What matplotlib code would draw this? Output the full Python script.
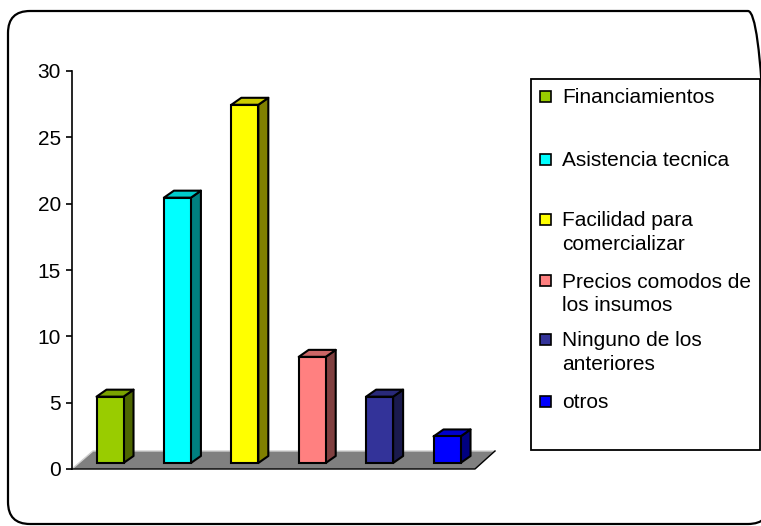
import numpy as np
import matplotlib.pyplot as plt
from matplotlib.patches import Polygon, FancyBboxPatch, Rectangle
from matplotlib.colors import to_rgb
from matplotlib.transforms import IdentityTransform

labels = ["Financiamientos", "Asistencia tecnica", "Facilidad para\ncomercializar",
          "Precios comodos de\nlos insumos", "Ninguno de los\nanteriores", "otros"]
values = [5, 20, 27, 8, 5, 2]
colors = ["#99CC00", "#00FFFF", "#FFFF00", "#FF8080", "#333399", "#0000FF"]
yticks = [0, 5, 10, 15, 20, 25, 30]

plt.rcParams['font.family'] = ['Liberation Sans', 'DejaVu Sans']
FS = 15

W, H = 761, 526
fig = plt.figure(figsize=(W / 100, H / 100), dpi=100)
px = IdentityTransform()

# plot area in pixels: left, top, right, bottom
L, T, R, B = 72, 71, 495, 469
ax = fig.add_axes([L / W, 1 - B / H, (R - L) / W, (B - T) / H])
xlim = (-0.564, 5.712)
ax.set_xlim(xlim)
ax.set_ylim(0, 30)
sx = (R - L) / (xlim[1] - xlim[0])
sy = (B - T) / 30.0

def shade(c, f):
    return tuple(np.array(to_rgb(c)) * f)

# floor
fd_x, fd_y = 21 / sx, 18 / sy
f_front_r = xlim[0] + 403 / sx
floor = Polygon([(xlim[0], 0), (f_front_r, 0), (xlim[1], fd_y), (xlim[0] + fd_x, fd_y)],
                closed=True, facecolor="#808080", edgecolor="none", clip_on=False, zorder=1)
ax.add_patch(floor)
ax.plot([xlim[0], xlim[0] + fd_x, xlim[1]], [0, fd_y, fd_y], color="#d0d0d0", lw=1,
        clip_on=False, zorder=1)
ax.plot([xlim[0], f_front_r, xlim[1]], [0, 0, fd_y], color="black", lw=1,
        clip_on=False, zorder=1)

# 3d-ish bars
x = np.arange(len(values))
bw = 27 / sx
base = 6 / sy
dx, dy = 10 / sx, 7 / sy
lw = 1.5
for xi, v, c in zip(x, values, colors):
    r = xi + bw / 2
    l = xi - bw / 2
    top = base + v
    side = Polygon([(r, base), (r + dx, base + dy), (r + dx, top + dy), (r, top)],
                   closed=True, facecolor=shade(c, 0.5), edgecolor="black", lw=lw,
                   joinstyle="round", zorder=2)
    lid = Polygon([(l, top), (r, top), (r + dx, top + dy), (l + dx, top + dy)],
                  closed=True, facecolor=shade(c, 0.8), edgecolor="black", lw=lw,
                  joinstyle="round", zorder=2)
    ax.add_patch(side)
    ax.add_patch(lid)
ax.bar(x, values, width=bw, bottom=base, color=colors, edgecolor="black",
       linewidth=lw, zorder=3)

for s in ("top", "right", "bottom"):
    ax.spines[s].set_visible(False)
ax.spines["left"].set_linewidth(1.2)
ax.set_xticks([])
ax.set_yticks(yticks)
ax.tick_params(axis="y", direction="out", length=4.5, width=1.2, pad=3.5, labelsize=FS)

# outer rounded frame (right edge runs just past the canvas)
frame = FancyBboxPatch((8, H - 524), 762, 513, boxstyle="round,pad=0,rounding_size=22",
                       facecolor="none", edgecolor="black", lw=1.6, transform=px)
fig.add_artist(frame)

# legend box
leg = Rectangle((531, H - 450), 229, 371, facecolor="white", edgecolor="black",
                lw=1.3, transform=px)
fig.add_artist(leg)
marker_y = [96, 159.5, 219.5, 280.5, 339.5, 401]
for lab, c, my in zip(labels, colors, marker_y):
    fig.add_artist(Rectangle((540, H - my - 5.5), 11, 11, facecolor=c, edgecolor="black",
                             lw=1.2, transform=px))
    for k, line in enumerate(lab.split("\n")):
        fig.text(562, H - (my + 7 + 23.5 * k), line, fontsize=FS, va="baseline",
                 ha="left", transform=px)

fig.savefig("out.png", dpi=100)
